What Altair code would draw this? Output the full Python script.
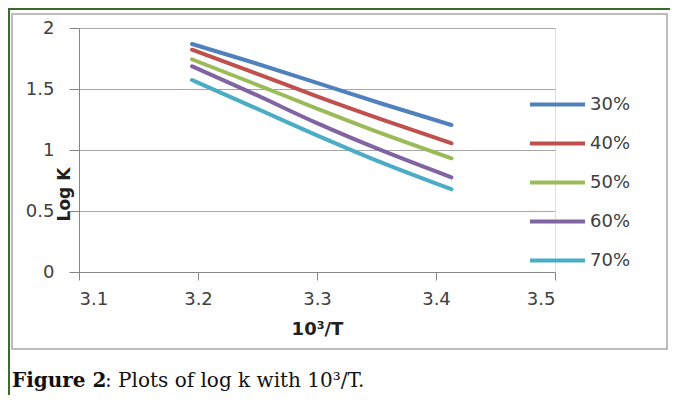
import altair as alt
import pandas as pd

inv_T = [3.195, 3.247, 3.300, 3.356, 3.413]
series = ["30%", "40%", "50%", "60%", "70%"]
log_k_30 = [1.869, 1.715, 1.55, 1.375, 1.205]
log_k_40 = [1.822, 1.635, 1.44, 1.245, 1.055]
log_k_50 = [1.743, 1.545, 1.34, 1.13, 0.932]
log_k_60 = [1.686, 1.46, 1.22, 0.99, 0.776]
log_k_70 = [1.574, 1.35, 1.12, 0.89, 0.678]
colors = ["#4F81BD", "#C0504D", "#9BBB59", "#8064A2", "#4BACC6"]
x_ticks = [3.1, 3.2, 3.3, 3.4, 3.5]
y_ticks = [0, 0.5, 1, 1.5, 2]

rows = []
for name, vals in zip(series, [log_k_30, log_k_40, log_k_50, log_k_60, log_k_70]):
    for xv, yv in zip(inv_T, vals):
        rows.append({"x": xv, "y": yv, "series": name})
df = pd.DataFrame(rows)

W, H = 476, 244
FONT = "DejaVu Sans"
AX = "#404040"
GRID = "#A6A6A6"

lines = alt.Chart(df).mark_line(strokeWidth=4, interpolate="monotone", strokeCap="round").encode(
    x=alt.X("x:Q", scale=alt.Scale(domain=[3.1, 3.5], nice=False, zero=False),
            axis=alt.Axis(values=x_ticks, format=".1f", title="10³/T", grid=False,
                          tickSize=8, labelPadding=10, labelFontSize=18, labelFont=FONT,
                          labelColor=AX, titleFont=FONT, titleFontSize=18, titleFontWeight="bold",
                          titleColor="#202020", titlePadding=12, domainColor="#868686",
                          tickColor="#868686")),
    y=alt.Y("y:Q", scale=alt.Scale(domain=[0, 2], nice=False),
            axis=alt.Axis(values=y_ticks, format="~g", title="Log K", grid=True, gridColor=GRID,
                          tickSize=10, labelPadding=15, labelFontSize=18, labelFont=FONT,
                          labelColor=AX, titleFont=FONT, titleFontSize=17, titleFontWeight="bold",
                          titleColor="#202020", titleX=-15, titleY=166, titleAngle=270,
                          titleAlign="center", titleBaseline="middle",
                          domainColor="#868686", tickColor="#868686")),
    color=alt.Color("series:N", scale=alt.Scale(domain=series, range=colors),
                    legend=alt.Legend(orient="none", legendX=449, legendY=47, title=None,
                                      symbolType="stroke", symbolSize=3025, symbolStrokeWidth=4,
                                      labelFontSize=18, labelFont=FONT, labelColor=AX,
                                      labelOffset=3, rowPadding=0)),
)

one = pd.DataFrame({"k": [0]})
frame = alt.Chart(one).mark_rect(fill=None, stroke="#A6A6A6", strokeWidth=1.5).encode(
    x=alt.value(-67), x2=alt.value(588), y=alt.value(-14), y2=alt.value(321))
green_top = alt.Chart(one).mark_rule(stroke="#3B6B2A", strokeWidth=2).encode(
    x=alt.value(-71), x2=alt.value(591), y=alt.value(-19))
green_left = alt.Chart(one).mark_rule(stroke="#3B6B2A", strokeWidth=2).encode(
    x=alt.value(-70), y=alt.value(-20), y2=alt.value(367))
cap1 = alt.Chart(one).mark_text(text="Figure 2", font="DejaVu Serif", fontSize=20,
                                 fontWeight="bold", align="left", baseline="alphabetic",
                                 color="#111111").encode(x=alt.value(-67), y=alt.value(359))
cap2 = alt.Chart(one).mark_text(text=": Plots of log k with 10³/T.", font="DejaVu Serif",
                                 fontSize=20, align="left", baseline="alphabetic",
                                 color="#111111").encode(x=alt.value(26), y=alt.value(359))

chart = alt.layer(frame, green_top, green_left, lines, cap1, cap2).properties(
    width=W, height=H,
    autosize=alt.AutoSizeParams(type="none"),
    padding={"left": 71, "top": 20, "right": 115, "bottom": 123},
).configure_view(stroke=None).configure(background="white")

chart.save("out.html", embed_options={"renderer": "svg", "actions": False})
